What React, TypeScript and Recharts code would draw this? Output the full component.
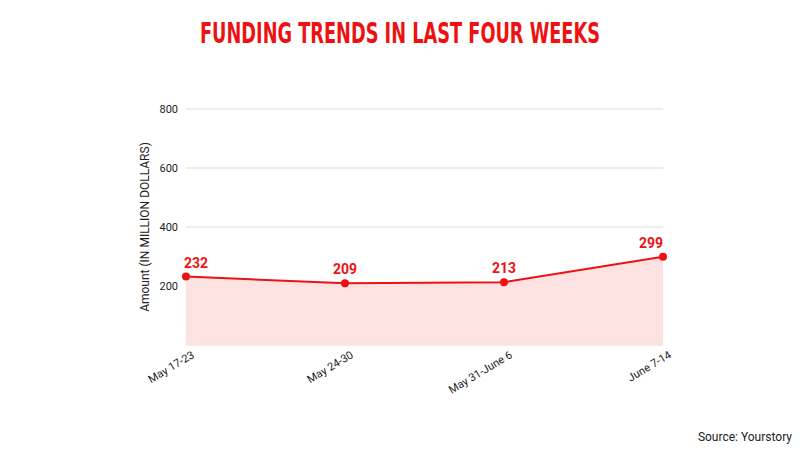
import {
  Area,
  AreaChart,
  CartesianGrid,
  LabelList,
  XAxis,
  YAxis,
} from "recharts";

const weeks = ["May 17-23", "May 24-30", "May 31-June 6", "June 7-14"];
const amounts = [232, 209, 213, 299];
const yTicks = [200, 400, 600, 800];

const RED = "#ee1111";
const PLOT_LEFT = 186;
const PLOT_RIGHT = 663;

function WeekTick(props: any) {
  const { x, y, payload } = props;
  const ax = x + 9;
  const ay = y + 4;
  return (
    <text
      x={ax}
      y={ay}
      textAnchor="end"
      fontSize={11}
      fill="#222"
      fontFamily="Roboto, sans-serif"
      transform={`rotate(-31, ${ax}, ${ay})`}
    >
      {payload.value}
    </text>
  );
}

function ValueLabel(props: any) {
  const { x, y, value } = props;
  const cx = Math.min(Math.max(x, PLOT_LEFT + 10), PLOT_RIGHT - 12);
  return (
    <text
      x={cx}
      y={y - 9}
      textAnchor="middle"
      fill={RED}
      fontSize={14}
      fontWeight="bold"
      fontFamily="Roboto, sans-serif"
    >
      {value}
    </text>
  );
}

export default function App() {
  const data = weeks.map((w, i) => ({ week: w, amount: amounts[i] }));

  return (
    <div style={{ position: "relative", width: 800, height: 450, background: "#fff" }}>
      <style>{`body{margin:0}`}</style>
      <svg
        width={800}
        height={450}
        style={{ position: "absolute", left: 0, top: 0, pointerEvents: "none" }}
      >
        <text
          x={200}
          y={43}
          fontSize={29}
          fontWeight="bold"
          fill={RED}
          fontFamily="'DejaVu Sans Condensed', 'Liberation Sans Narrow', sans-serif"
          textLength={400}
          lengthAdjust="spacingAndGlyphs"
        >
          FUNDING TRENDS IN LAST FOUR WEEKS
        </text>
        <text
          x={149}
          y={227}
          fontSize={12}
          fill="#222"
          textAnchor="middle"
          fontFamily="Roboto, sans-serif"
          transform="rotate(-90, 149, 227)"
        >
          Amount (IN MILLION DOLLARS)
        </text>
        <text
          x={792}
          y={441}
          fontSize={12}
          fill="#222"
          textAnchor="end"
          fontFamily="Roboto, sans-serif"
        >
          Source: Yourstory
        </text>
      </svg>
      <AreaChart
        width={800}
        height={450}
        data={data}
        margin={{ top: 109, right: 800 - PLOT_RIGHT, left: 0, bottom: 0 }}
      >
        <CartesianGrid vertical={false} stroke="#dddddd" />
        <XAxis
          dataKey="week"
          axisLine={false}
          tickLine={false}
          interval={0}
          tick={<WeekTick />}
          height={105}
          padding={{ left: 0, right: 0 }}
        />
        <YAxis
          domain={[0, 800]}
          ticks={yTicks}
          width={PLOT_LEFT}
          axisLine={false}
          tickLine={false}
          tick={{ fontSize: 11, fill: "#222", fontFamily: "Roboto, sans-serif" }}
        />
        <Area
          type="linear"
          dataKey="amount"
          stroke={RED}
          strokeWidth={2}
          fill="#fde2e2"
          fillOpacity={1}
          dot={{ r: 4, fill: RED, stroke: RED, strokeWidth: 0 }}
          isAnimationActive={false}
        >
          <LabelList dataKey="amount" content={<ValueLabel />} />
        </Area>
      </AreaChart>
    </div>
  );
}
